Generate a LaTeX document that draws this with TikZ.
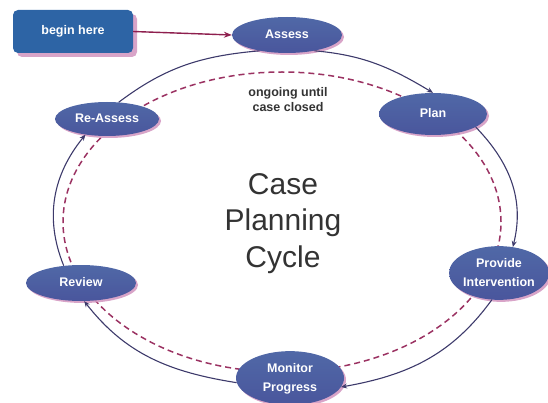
\documentclass[tikz,border=0pt]{standalone}
\usepackage{fontspec}
\setmainfont{Liberation Sans}
\usetikzlibrary{shapes.geometric,arrows.meta,shadows}
\definecolor{nodeblue}{HTML}{2F5CA0}
\definecolor{nodelow}{HTML}{6A4E98}
\definecolor{nodeshadow}{HTML}{D49AC2}
\definecolor{cycleline}{HTML}{3D3A6B}
\definecolor{dashline}{HTML}{9B3262}
\definecolor{startline}{HTML}{8E1F4E}
\definecolor{titlegray}{HTML}{333333}
\newcommand{\ctext}[1]{\makebox[0pt][c]{\begin{tabular}{@{}c@{}}#1\end{tabular}}}
\begin{document}
\begin{tikzpicture}[x=1pt,y=1pt,
  bubble/.style={ellipse, inner sep=0pt, text=white,
    font=\bfseries\fontsize{12.5}{19}\selectfont,
    top color=nodeblue!80!nodeshadow, middle color=nodeblue, bottom color=nodeblue!55!nodelow,
    drop shadow={shadow xshift=2pt, shadow yshift=-2pt, fill=nodeshadow, opacity=0.9}},
  startbox/.style={rectangle, rounded corners=5pt, inner sep=0pt, fill=nodeblue!95!cyan,
    text=white, font=\bfseries\fontsize{12.5}{15}\selectfont,
    minimum width=120pt, minimum height=43pt,
    drop shadow={shadow xshift=4pt, shadow yshift=-4pt, fill=nodeshadow, opacity=0.9}},
  cyc/.style={draw=cycleline, line width=1.1pt, -{Stealth[length=6pt,width=5pt]}},
  cycplain/.style={draw=cycleline, line width=1.1pt},
  dashring/.style={draw=dashline, line width=1.5pt, dash pattern=on 6pt off 4pt},
  startarrow/.style={draw=startline, line width=1.4pt, -{Stealth[length=8pt,width=6pt]}},
  titletext/.style={align=center, text=titlegray, font=\fontsize{30}{36.5}\selectfont},
  notetext/.style={align=center, text=titlegray, font=\bfseries\fontsize{12.5}{15}\selectfont}
]
\useasboundingbox (0,0) rectangle (548,-403);

% dashed inner ring
\draw[dashring] (282,-222) ellipse [x radius=219, y radius=150];

% nodes
\node[startbox] (begin) at (73,-31.5) {begin here};
\node[bubble, minimum width=110pt, minimum height=36pt] (assess) at (287,-35) {\ctext{Assess}};
\node[bubble, minimum width=108pt, minimum height=42pt] (plan) at (433,-114) {\ctext{Plan}};
\node[bubble, minimum width=100pt, minimum height=46pt] (provide) at (499,-273) {\ctext{Provide\\Intervention}};
\node[bubble, minimum width=108pt, minimum height=46pt] (monitor) at (290,-378) {\ctext{Monitor\\Progress}};
\node[bubble, minimum width=110pt, minimum height=36pt] (review) at (81,-283) {\ctext{Review}};
\node[bubble, minimum width=104pt, minimum height=34pt] (reassess) at (107,-119) {\ctext{Re-Assess}};

\node[titletext] (title) at (283,-223.6) {Case\\Planning\\Cycle};
\node[notetext] (note) at (288,-99.5) {ongoing until\\case closed};

% connectors
\draw[startarrow] (begin.east) -- (assess.west);
\draw[cyc] (assess.-30) to[out=-5, in=149] (plan.north);
\draw[cyc] (plan.-17) to[out=-46, in=76] (provide.62);
\draw[cyc] (provide.-105) to[out=-126, in=10] (monitor.-10);
\draw[cyc] (monitor.-175) to[out=171, in=-52] (review.-80);
\draw[cyc] (review.135) to[out=112, in=-129] (reassess.-144);
\draw[cycplain] (reassess.55) to[out=37, in=185] (assess.-150);
\end{tikzpicture}
\end{document}
